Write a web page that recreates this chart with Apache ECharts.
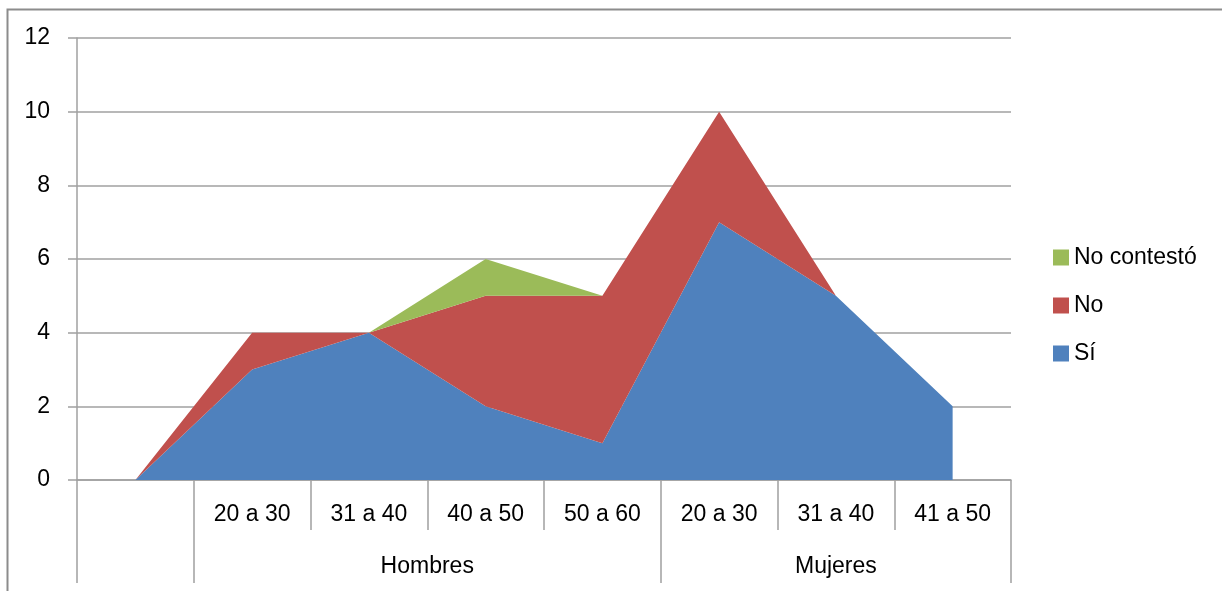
<!DOCTYPE html>
<html>
<head>
<meta charset="utf-8">
<script src="https://cdn.jsdelivr.net/npm/echarts@6/dist/echarts.min.js"></script>
<style>
  html, body { margin: 0; padding: 0; background: #fff; }
  #chart { width: 1222px; height: 591px; }
</style>
</head>
<body>
<div id="chart"></div>
<script>
// Age brackets (first slot is an empty lead-in category)
const categories = ['', '20 a 30', '31 a 40', '40 a 50', '50 a 60', '20 a 30', '31 a 40', '41 a 50'];
// Outer grouping of the categories and how many brackets each group spans
const groupNames = ['', 'Hombres', 'Mujeres'];
const groupSpans = [1, 4, 3];

// Stacked answers per bracket
const si = [0, 3, 4, 2, 1, 7, 5, 2];
const no = [0, 1, 0, 3, 4, 3, 0, 0];
const noContesto = [0, 0, 0, 1, 0, 0, 0, 0];

// Y axis range
const yMin = 0, yMax = 12, yStep = 2;

// Group boundaries and label centres on the secondary axis
const groupBounds = [0];
groupSpans.forEach(s => groupBounds.push(groupBounds[groupBounds.length - 1] + s));
const groupCentres = [];
groupNames.forEach((name, i) => {
  if (name) groupCentres.push({ pos: (groupBounds[i] + groupBounds[i + 1]) / 2, name });
});

const FONT = 'Liberation Sans';
const GRAY = '#a0a0a0';
const txt = { color: '#000', fontFamily: FONT, fontSize: 23 };

const chart = echarts.init(document.getElementById('chart'));

function areaSeries(name, data, color) {
  return {
    name, type: 'line', stack: 'total', data,
    symbol: 'none', smooth: false,
    lineStyle: { width: 0, color },
    itemStyle: { color },
    areaStyle: { color, opacity: 1 },
    emphasis: { disabled: true }
  };
}

chart.setOption({
  animation: false,
  textStyle: { fontFamily: FONT },
  graphic: [{
    type: 'rect', left: 5, top: 7, silent: true,
    shape: { width: 1240, height: 620 },
    style: { fill: 'none', stroke: '#8c8c8c', lineWidth: 2 }
  }],
  grid: { left: 77, right: 211, top: 38, bottom: 111, containLabel: false },
  legend: {
    orient: 'vertical', left: 1048, top: 241,
    data: ['No contestó', 'No', 'Sí'],
    icon: 'rect', itemWidth: 16, itemHeight: 16, itemGap: 25,
    textStyle: Object.assign({}, txt, { padding: [0, 0, 0, 0] }),
    selectedMode: false
  },
  xAxis: [{
    type: 'category', data: categories, boundaryGap: true,
    axisLine: { show: true, lineStyle: { color: GRAY, width: 1.5 } },
    axisTick: { show: true, interval: 0, length: 50, lineStyle: { color: GRAY, width: 1.5 } },
    axisLabel: Object.assign({ interval: 0, margin: 23 }, txt),
    splitLine: { show: false }
  }, {
    type: 'value', min: 0, max: groupBounds[groupBounds.length - 1],
    position: 'bottom', offset: 50,
    axisLine: { show: false },
    axisTick: { show: true, customValues: groupBounds, length: 53, lineStyle: { color: GRAY, width: 1.5 } },
    axisLabel: Object.assign({
      customValues: groupCentres.map(g => g.pos), margin: 25,
      formatter: v => { const g = groupCentres.find(c => c.pos === v); return g ? g.name : ''; }
    }, txt),
    splitLine: { show: false }
  }],
  yAxis: {
    type: 'value', min: yMin, max: yMax, interval: yStep,
    axisLine: { show: true, lineStyle: { color: GRAY, width: 1.5 } },
    axisTick: { show: true, length: 9, lineStyle: { color: GRAY, width: 1.5 } },
    axisLabel: Object.assign({ margin: 27 }, txt),
    splitLine: { show: true, lineStyle: { color: GRAY, width: 1.5 } }
  },
  series: [
    areaSeries('Sí', si, '#4f81bd'),
    areaSeries('No', no, '#c0504d'),
    areaSeries('No contestó', noContesto, '#9bbb59')
  ]
});
</script>
</body>
</html>
